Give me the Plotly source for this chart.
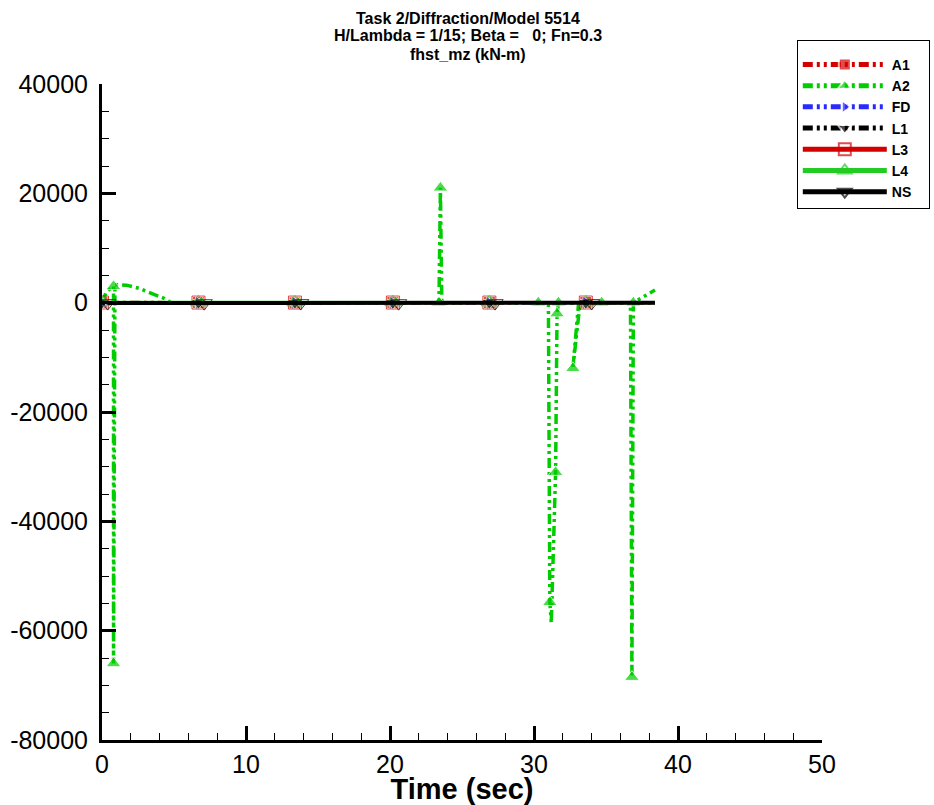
import plotly.graph_objects as go

# ---- data ----
T_BASE = [0.0, 6.7, 13.4, 20.2, 26.9, 33.6, 38.4]
T_NS = [0.4, 7.1, 13.8, 20.6, 27.3, 34.0, 38.4]

A1 = [60, 40, -30, 50, 30, 40, 0]
FD = [-60, -50, -40, -50, -60, -40, 0]
L1 = [-20, -30, -20, -40, -30, -20, 0]
L3 = [30, 20, 20, 30, 20, 30, 0]
L4 = [80, 60, 50, 70, 60, 50, 0]
NS = [-80, -90, -70, -90, -80, -70, 0]

A2_T = [0.0, 0.3, 0.8, 0.8, 0.9, 1.7, 2.6, 3.5, 4.3, 4.8, 6.9, 13.6, 20.4,
        23.4, 23.5, 23.6, 27.0, 30.3, 31.0, 31.1, 31.2, 31.5, 31.6, 31.7,
        33.1, 32.7, 33.2, 34.7, 36.7, 36.8, 36.9, 38.4]
A2 = [0, 2000, 3000, -66000, 3300, 3200, 2600, 1700, 800, 0, 0, 0, 0,
      0, 21000, 0, 0, 0, 0, -54800, -58600, -31000, -2000, 0,
      0, -12000, 0, 0, 0, -68500, 0, 2300]
A2_MARKED = [0, 2, 3, 10, 11, 12, 13, 14, 16, 17, 19, 21, 22, 23, 25, 27, 29, 30]

X_TICKS = [0, 10, 20, 30, 40, 50]
Y_TICKS = [40000, 20000, 0, -20000, -40000, -60000, -80000]
TITLE_LINES = ["Task 2/Diffraction/Model 5514",
               "H/Lambda = 1/15; Beta =   0; Fn=0.3",
               "fhst_mz (kN-m)"]

RED = "#d40000"
GREEN = "#00cc00"
BLUE = "#2a2aff"
DASH2 = "10px,4px,3px,4px,3px,4px"
PAD = "\u00a0" * 3  # widens the legend box a bit

fig = go.Figure()


def add_series(name, t, y, color, dash, symbol, sizes, width=3, mline=None):
    marker = dict(symbol=symbol, color=color, size=sizes)
    if mline:
        marker["line"] = mline
    fig.add_trace(go.Scatter(x=t, y=y, name="<b>" + name + "</b>" + PAD, mode="lines+markers",
                             line=dict(color=color, width=width, dash=dash),
                             marker=marker))


def base_sizes(s):
    return [s] * (len(T_BASE) - 1) + [0]


add_series("A1", T_BASE, A1, RED, DASH2, "square", base_sizes(12))
a2_sizes = [13 if i in A2_MARKED else 0 for i in range(len(A2))]
add_series("A2", A2_T, A2, GREEN, DASH2, "triangle-up", a2_sizes, width=3.5)
add_series("FD", T_BASE, FD, BLUE, DASH2, "triangle-right", base_sizes(12))
add_series("L1", T_BASE, L1, "black", DASH2, "triangle-down", base_sizes(13))
add_series("L3", T_BASE, L3, RED, "solid", "square-open", base_sizes(13),
           mline=dict(color="#e05050", width=1))
add_series("L4", T_BASE, L4, "#22cc22", "solid", "triangle-up-open", base_sizes(14),
           mline=dict(color="#66ee66", width=1))
add_series("NS", T_NS, NS, "black", "solid", "triangle-down-open", base_sizes(14),
           width=4, mline=dict(color="black", width=1))

# three title lines placed in pixel rows 18, 36, 54
for i, txt in enumerate(TITLE_LINES):
    fig.add_annotation(text="<b>" + txt + "</b>", xref="paper", yref="paper",
                       x=(468 - 102) / 720, y=(740 - (18 + 18 * i)) / 656,
                       xanchor="center", yanchor="middle", showarrow=False,
                       font=dict(size=16))

fig.update_layout(
    width=934, height=805,
    margin=dict(l=102, r=112, t=84, b=65, autoexpand=False),
    plot_bgcolor="white", paper_bgcolor="white",
    font=dict(family="Arial, Liberation Sans, sans-serif", color="black"),
    legend=dict(x=0.965, y=1.067, xanchor="left", yanchor="top", bgcolor="white",
                bordercolor="black", borderwidth=1, font=dict(size=14),
                title=dict(text="\u00a0", font=dict(size=6)),
                itemsizing="constant", itemwidth=84, tracegroupgap=0),
    showlegend=True,
)

fig.update_xaxes(range=[0, 50], tickvals=X_TICKS, ticktext=[str(v) for v in X_TICKS],
                 ticks="inside", ticklen=14, tickwidth=2.5, tickcolor="black",
                 minor=dict(ticks="inside", ticklen=7, tickwidth=1, dtick=2, tickcolor="black"),
                 showline=True, linewidth=3, linecolor="black", showgrid=False, zeroline=False,
                 tickfont=dict(size=25),
                 title=dict(text="<b>Time (sec)</b>", font=dict(size=29), standoff=0))
fig.update_yaxes(range=[-80000, 40000], tickvals=Y_TICKS, ticktext=[str(v) for v in Y_TICKS],
                 ticks="inside", ticklen=14, tickwidth=2.5, tickcolor="black",
                 minor=dict(ticks="inside", ticklen=7, tickwidth=1, dtick=5000, tickcolor="black"),
                 showline=True, linewidth=3, linecolor="black", showgrid=False, zeroline=False,
                 tickfont=dict(size=25), ticklabelstandoff=6)

fig.write_html("out.html", config={"displayModeBar": False},
               post_script="document.body.style.margin='0';")
